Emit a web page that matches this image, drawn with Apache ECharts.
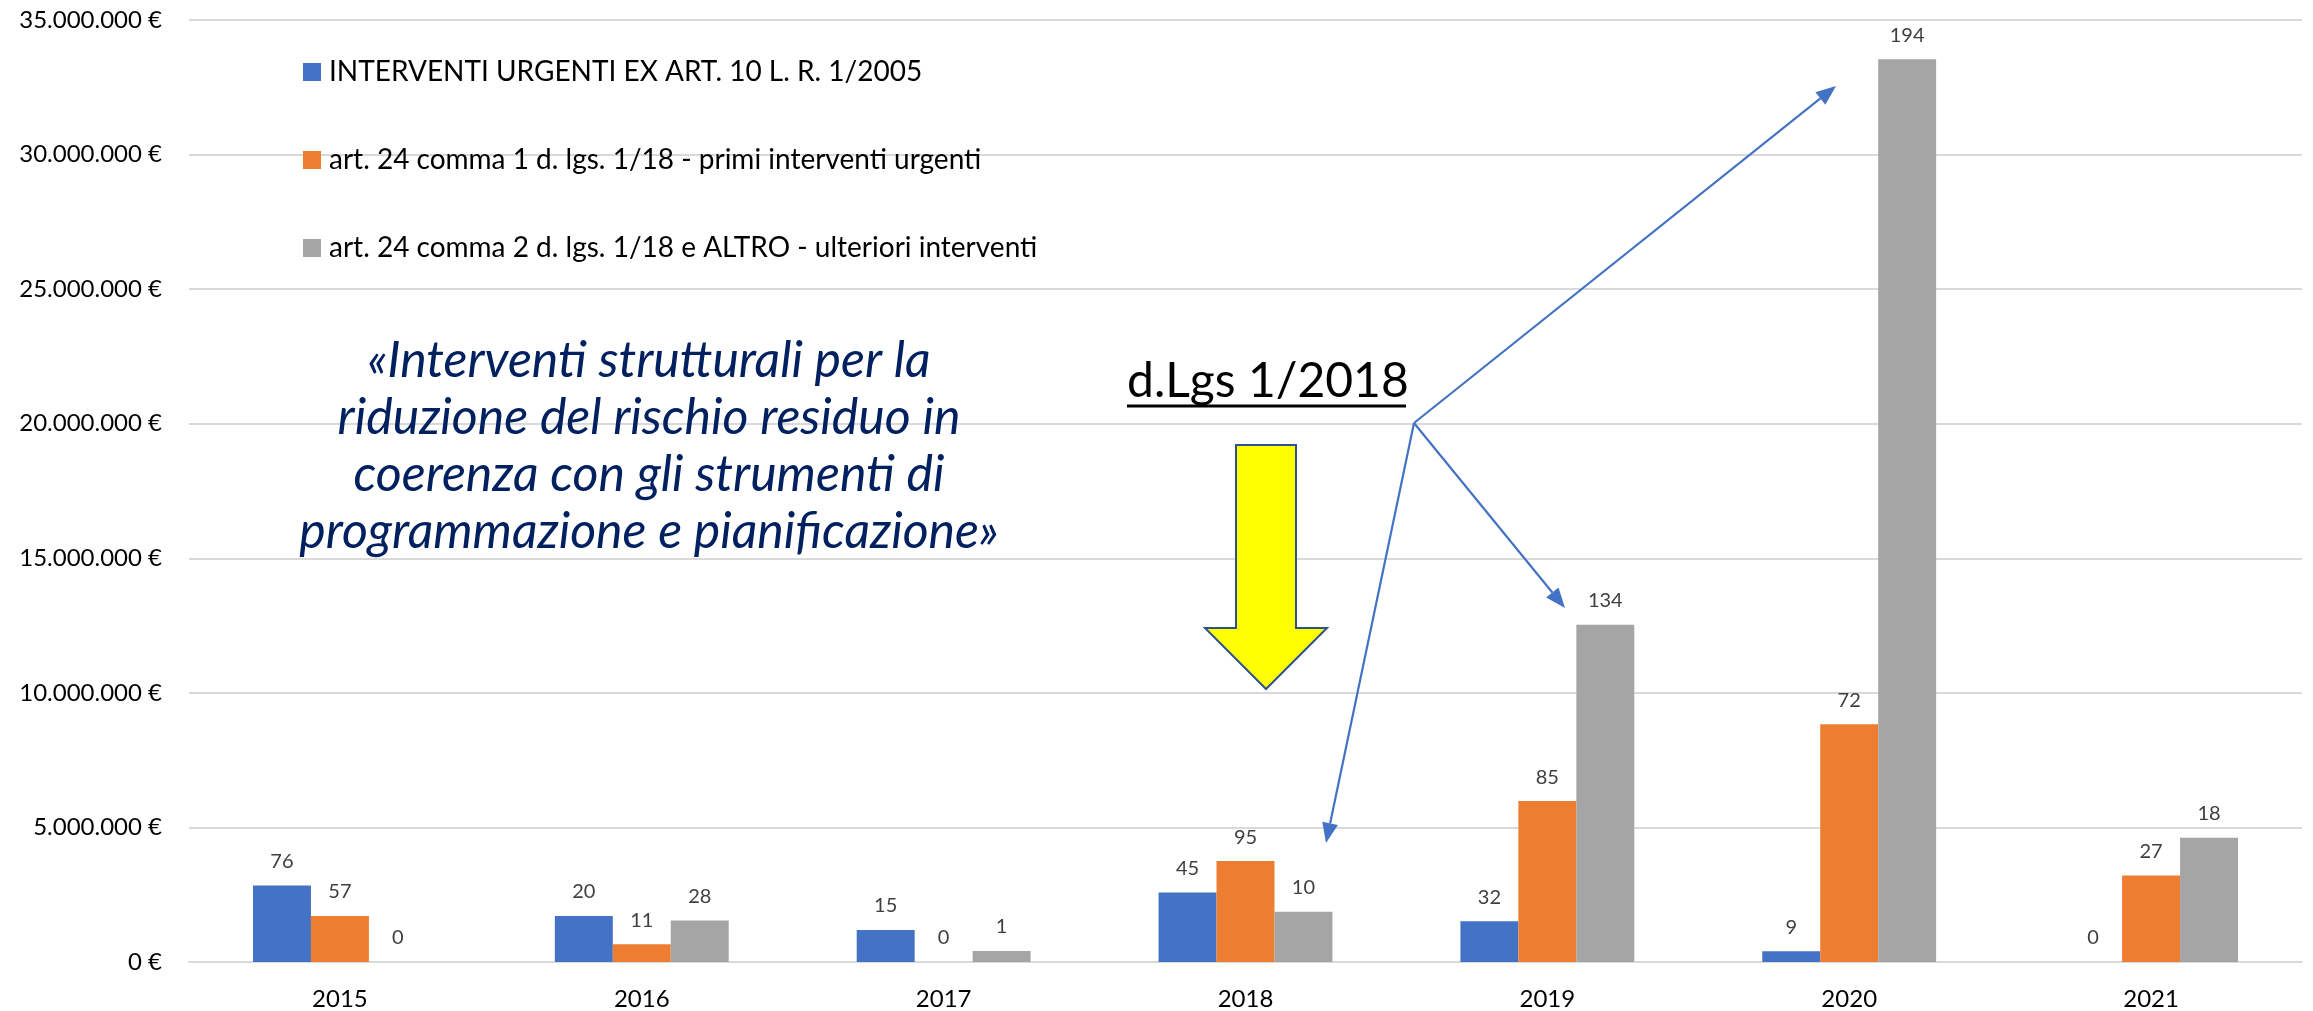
<!DOCTYPE html>
<html>
<head>
<meta charset="utf-8">
<title>Interventi 2015-2021</title>
<script src="https://cdn.jsdelivr.net/npm/echarts@6/dist/echarts.min.js"></script>
<style>
  html, body { margin: 0; padding: 0; background: #fff; }
  #chart { width: 2313px; height: 1011px; }
</style>
</head>
<body>
<div id="chart"></div>
<script>
// categories (years)
const years = ['2015', '2016', '2017', '2018', '2019', '2020', '2021']

// series names
const seriesNames = [
  'INTERVENTI URGENTI EX ART. 10 L. R. 1/2005',
  'art. 24 comma 1 d. lgs. 1/18 - primi interventi urgenti',
  'art. 24 comma 2 d. lgs. 1/18 e ALTRO - ulteriori interventi'
]

// amounts in euro (bar heights)
const urgentiAmount = [2840000, 1710000, 1190000, 2580000, 1510000, 400000, 0]
const primiAmount = [1710000, 660000, 0, 3750000, 5980000, 8830000, 3210000]
const ulterioriAmount = [0, 1540000, 410000, 1870000, 12530000, 33540000, 4620000]

// number of interventions (data labels)
const urgentiCount = [76, 20, 15, 45, 32, 9, 0]
const primiCount = [57, 11, 0, 95, 85, 72, 27]
const ulterioriCount = [0, 28, 1, 10, 134, 194, 18]

// y axis ticks
const yMin = 0
const yMax = 35000000
const yStep = 5000000

const colors = ['#4472C4', '#ED7D31', '#A5A5A5']
const FONT = 'Lato, "Open Sans", "Noto Sans", sans-serif'

function euro (v) {
  return String(v).replace(/\B(?=(\d{3})+(?!\d))/g, '.') + ' €'
}

function makeSeries (name, amounts, counts, color) {
  return {
    name: name,
    type: 'bar',
    barGap: '0%',
    barCategoryGap: '42.4%',
    itemStyle: { color: color },
    label: {
      show: true,
      position: 'top',
      distance: 14,
      color: '#404040',
      fontFamily: FONT,
      fontSize: 20,
      formatter: p => String(counts[p.dataIndex])
    },
    data: amounts
  }
}

// arrow helper for the blue annotation arrows
function arrow (x1, y1, x2, y2) {
  const len = Math.hypot(x2 - x1, y2 - y1)
  const ux = (x2 - x1) / len
  const uy = (y2 - y1) / len
  const headLen = 20
  const headW = 8
  const bx = x2 - ux * headLen
  const by = y2 - uy * headLen
  return [
    {
      type: 'line',
      shape: { x1: x1, y1: y1, x2: bx, y2: by },
      style: { stroke: '#4472C4', lineWidth: 2.2 },
      z: 100
    },
    {
      type: 'polygon',
      shape: {
        points: [[x2, y2], [bx - uy * headW, by + ux * headW], [bx + uy * headW, by - ux * headW]]
      },
      style: { fill: '#4472C4' },
      z: 100
    }
  ]
}

const myChart = echarts.init(document.getElementById('chart'))

const origin = [1414, 423]
const graphics = [
  {
    type: 'text',
    x: 649,
    y: 446,
    style: {
      text: '«Interventi strutturali per la\nriduzione del rischio residuo in\ncoerenza con gli strumenti di\nprogrammazione e pianificazione»',
      font: 'italic 50px ' + FONT,
      fill: '#002060',
      align: 'center',
      verticalAlign: 'middle',
      lineHeight: 57
    },
    z: 100
  },
  {
    type: 'text',
    x: 1127,
    y: 382,
    style: {
      text: 'd.Lgs 1/2018',
      font: '48px ' + FONT,
      fill: '#000',
      align: 'left',
      verticalAlign: 'middle'
    },
    z: 100
  },
  {
    type: 'line',
    shape: { x1: 1127, y1: 406, x2: 1406, y2: 406 },
    style: { stroke: '#000', lineWidth: 3 },
    z: 100
  },
  {
    type: 'polygon',
    shape: {
      points: [[1236, 445], [1296, 445], [1296, 628], [1327, 628], [1266, 689], [1205, 628], [1236, 628]]
    },
    style: { fill: '#FFFF00', stroke: '#2F528F', lineWidth: 2 },
    z: 100
  }
]
  .concat(arrow(origin[0], origin[1], 1836, 86))
  .concat(arrow(origin[0], origin[1], 1565, 608))
  .concat(arrow(origin[0], origin[1], 1326, 843))

const option = {
  animation: false,
  color: colors,
  textStyle: { fontFamily: FONT },
  grid: {
    left: 189,
    right: 11,
    top: 20,
    bottom: 49,
    containLabel: false
  },
  legend: {
    orient: 'vertical',
    left: 298,
    top: 52,
    itemWidth: 18,
    itemHeight: 18,
    itemGap: 58,
    icon: 'rect',
    textStyle: {
      color: '#000',
      fontFamily: FONT,
      fontSize: 28,
      lineHeight: 30,
      padding: [0, 0, 0, 3]
    },
    data: seriesNames
  },
  xAxis: {
    type: 'category',
    data: years,
    axisLine: { lineStyle: { color: '#D9D9D9', width: 2 } },
    axisTick: { show: false },
    axisLabel: {
      color: '#000',
      fontFamily: FONT,
      fontSize: 24,
      margin: 25
    }
  },
  yAxis: {
    type: 'value',
    min: yMin,
    max: yMax,
    interval: yStep,
    axisLine: { show: false },
    axisTick: { show: false },
    splitLine: { lineStyle: { color: '#D9D9D9', width: 2 } },
    axisLabel: {
      color: '#000',
      fontFamily: FONT,
      fontSize: 24,
      margin: 27,
      formatter: euro
    }
  },
  series: [
    makeSeries(seriesNames[0], urgentiAmount, urgentiCount, colors[0]),
    makeSeries(seriesNames[1], primiAmount, primiCount, colors[1]),
    makeSeries(seriesNames[2], ulterioriAmount, ulterioriCount, colors[2])
  ],
  graphic: graphics
}

myChart.setOption(option, true)
</script>
</body>
</html>
